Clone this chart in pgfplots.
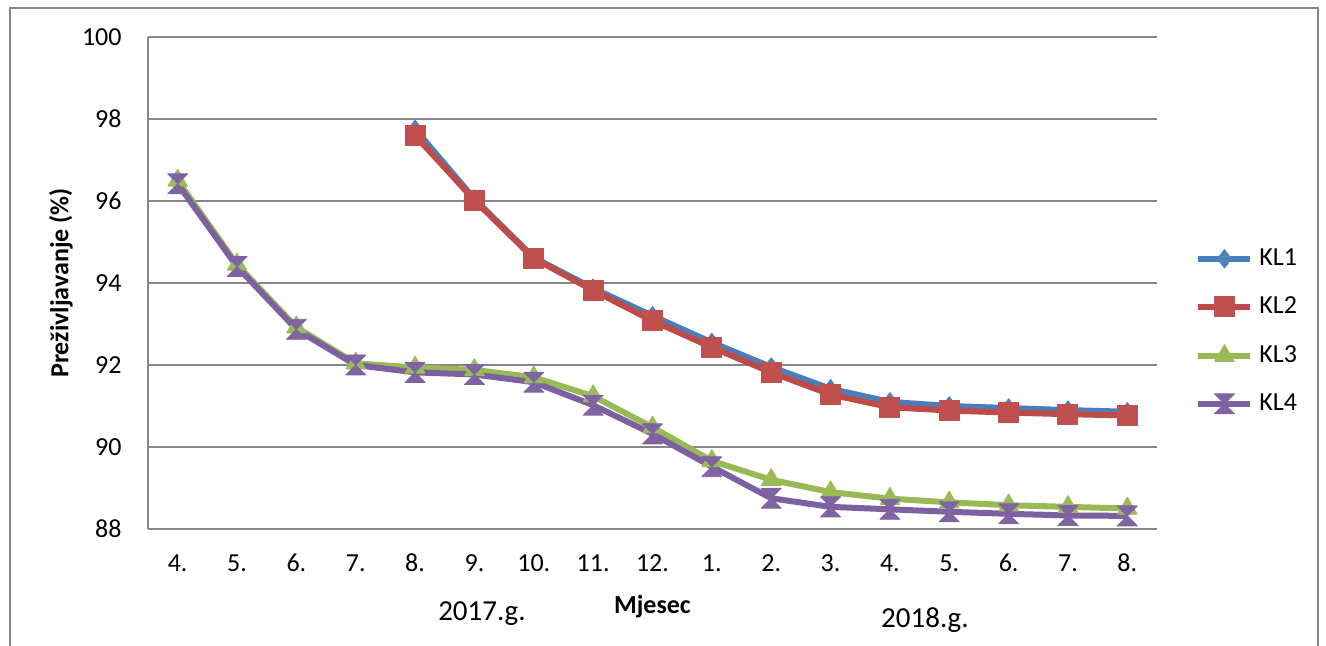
\documentclass[border=0pt]{standalone}
\usepackage{fontspec}
\setmainfont{Carlito}
\usepackage{pgfplots}
\pgfplotsset{compat=1.18}
\definecolor{l1}{HTML}{4A7EBB}\definecolor{m1}{HTML}{4F81BD}
\definecolor{l2}{HTML}{BE4B48}\definecolor{m2}{HTML}{C0504D}
\definecolor{l3}{HTML}{98B954}\definecolor{m3}{HTML}{9BBB59}
\definecolor{l4}{HTML}{7D60A0}\definecolor{m4}{HTML}{8064A2}
\definecolor{gridc}{HTML}{868686}
\pgfdeclareplotmark{hourglass}{%
 \pgfpathmoveto{\pgfqpoint{-\pgfplotmarksize}{\pgfplotmarksize}}%
 \pgfpathlineto{\pgfqpoint{\pgfplotmarksize}{\pgfplotmarksize}}%
 \pgfpathlineto{\pgfqpoint{-\pgfplotmarksize}{-\pgfplotmarksize}}%
 \pgfpathlineto{\pgfqpoint{\pgfplotmarksize}{-\pgfplotmarksize}}%
 \pgfpathclose
 \pgfusepathqfillstroke}
\begin{document}
\begin{tikzpicture}
\begin{axis}[
 name=ax, at={(0,0)}, anchor=south west,
 scale only axis, width=504.5pt, height=246pt,
 xmin=-0.5, xmax=16.5, ymin=88, ymax=100,
 xtick={0,...,16},
 xticklabels={4.,5.,6.,7.,8.,9.,10.,11.,12.,1.,2.,3.,4.,5.,6.,7.,8.},
 ytick={88,90,...,100},
 axis x line*=bottom, axis y line*=left,
 axis line style={gridc, line width=1.2pt, -},
 ymajorgrids, major grid style={gridc, line width=1.2pt},
 major tick length=0pt,
 /pgf/number format/assume math mode=true,
 tick label style={font=\fontsize{13}{15}\selectfont},
 xticklabel style={anchor=center, inner sep=0pt, yshift=-17pt},
 yticklabel style={anchor=east, inner sep=0pt, xshift=-13pt},
 xlabel={\textbf{Mjesec}},
 xlabel style={at={(axis description cs:0.5,0)}, anchor=center, yshift=-39pt, font=\fontsize{13}{15}\selectfont},
 ylabel={\textbf{Preživljavanje (\%)}},
 ylabel style={at={([xshift=-43.5pt]axis description cs:0,0.5)}, anchor=center, font=\fontsize{13}{15}\selectfont},
 clip=false,
 every axis plot/.append style={line width=3pt, line join=round},
 legend style={draw=none, fill=none, inner sep=0pt, at={(axis description cs:1.0377,0.57)}, anchor=north west,
   row sep=14pt, column sep=3pt, nodes={inner sep=0pt}, font=\fontsize{13}{15}\selectfont},
 legend cell align=left,
 legend image code/.code={\draw[mark repeat=2,mark phase=2,#1] plot coordinates {(0pt,0pt) (13pt,0pt) (26pt,0pt)};},
]
\addplot[color=l1, mark=diamond*, mark size=4.6pt, mark options={fill=m1, draw=m1, line width=0.5pt}] coordinates {
(4,97.75)(5,96.05)(6,94.62)(7,93.87)(8,93.2)(9,92.55)(10,91.95)(11,91.42)(12,91.1)(13,91.0)(14,90.95)(15,90.9)(16,90.86)};
\addlegendentry{KL1}
\addplot[color=l2, mark=square*, mark size=5pt, mark options={fill=m2, draw=m2, line width=0.5pt}] coordinates {
(4,97.6)(5,96.02)(6,94.6)(7,93.82)(8,93.08)(9,92.43)(10,91.82)(11,91.28)(12,90.97)(13,90.89)(14,90.84)(15,90.8)(16,90.77)};
\addlegendentry{KL2}
\addplot[color=l3, mark=triangle*, mark size=5.6pt, mark options={fill=m3, draw=m3, line width=0.5pt}] coordinates {
(0,96.5)(1,94.45)(2,92.92)(3,92.04)(4,91.94)(5,91.88)(6,91.7)(7,91.24)(8,90.48)(9,89.66)(10,89.2)(11,88.9)(12,88.74)(13,88.65)(14,88.58)(15,88.54)(16,88.5)};
\addlegendentry{KL3}
\addplot[color=l4, mark=hourglass, mark size=5pt, mark options={fill=m4, draw=m4, line width=0.4pt}] coordinates {
(0,96.42)(1,94.4)(2,92.87)(3,92.0)(4,91.82)(5,91.77)(6,91.58)(7,91.02)(8,90.32)(9,89.52)(10,88.75)(11,88.54)(12,88.48)(13,88.42)(14,88.37)(15,88.33)(16,88.32)};
\addlegendentry{KL4}
\node[font=\fontsize{14.5}{17}\selectfont, anchor=center] at ([yshift=-42.5pt]axis description cs:0.331,0) {2017.g.};
\node[font=\fontsize{14.5}{17}\selectfont, anchor=center] at ([yshift=-45.5pt]axis description cs:0.770,0) {2018.g.};
\end{axis}
\draw[gridc, line width=1pt] (-69pt,-62pt) -- (-69pt,260.5pt) -- (585pt,260.5pt) -- (585pt,-62pt);
\pgfresetboundingbox
\path[use as bounding box] (-74pt,-58.5pt) rectangle (589pt,264.5pt);
\end{tikzpicture}
\end{document}
